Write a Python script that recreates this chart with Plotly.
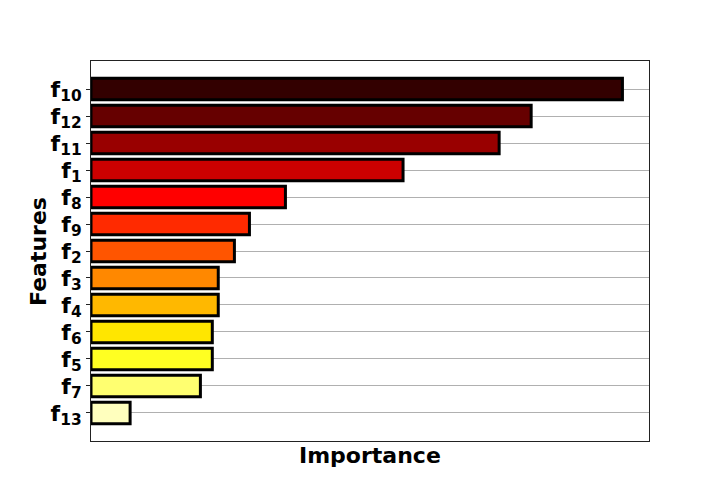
import plotly.graph_objects as go

# features, top to bottom as drawn
features = ["f<sub>10</sub>", "f<sub>12</sub>", "f<sub>11</sub>", "f<sub>1</sub>", "f<sub>8</sub>",
            "f<sub>9</sub>", "f<sub>2</sub>", "f<sub>3</sub>", "f<sub>4</sub>", "f<sub>6</sub>",
            "f<sub>5</sub>", "f<sub>7</sub>", "f<sub>13</sub>"]
importance = [0.1875, 0.1553, 0.1440, 0.1101, 0.0686, 0.0559, 0.0506,
              0.0449, 0.0449, 0.0428, 0.0428, 0.0386, 0.0138]
bar_colors = ["#330000", "#660000", "#990000", "#cc0000", "#ff0000", "#ff2a00", "#ff5500",
              "#ff8800", "#ffb800", "#ffe600", "#ffff22", "#ffff70", "#ffffbe"]

fig = go.Figure()
fig.add_bar(
    x=importance, y=features, orientation="h", width=0.8,
    marker=dict(color=bar_colors, line=dict(color="black", width=3)),
)

# page body adds a small offset, margins compensate for it
fig.update_layout(
    width=720, height=504,
    margin=dict(l=83, r=79, t=53, b=71),
    plot_bgcolor="white", paper_bgcolor="white",
    showlegend=False,
    font=dict(family="DejaVu Sans", color="black"),
)
fig.update_xaxes(
    range=[0, max(importance) * 1.05],
    showticklabels=False, ticks="", showgrid=False, zeroline=False,
    showline=True, mirror=True, linecolor="#222222", linewidth=1,
)
fig.update_yaxes(
    type="category", range=[13.04, -1.04],
    tickmode="array", tickvals=features, ticktext=features,
    showgrid=True, gridcolor="#b0b0b0", gridwidth=1,
    layer="above traces", automargin=False,
    ticks="outside", ticklen=4, tickcolor="#222222",
    tickfont=dict(size=22, weight="bold", family="DejaVu Sans"),
    showline=True, mirror=True, linecolor="#222222", linewidth=1,
)

fig.add_annotation(text="<b>Importance</b>", xref="paper", yref="paper", x=0.5, y=-0.037,
                   yanchor="middle", showarrow=False, font=dict(size=22))
fig.add_annotation(text="<b>Features</b>", xref="paper", yref="paper", x=-0.095, y=0.5,
                   xanchor="center", textangle=-90, showarrow=False, font=dict(size=22))

fig.write_html("out.html")
